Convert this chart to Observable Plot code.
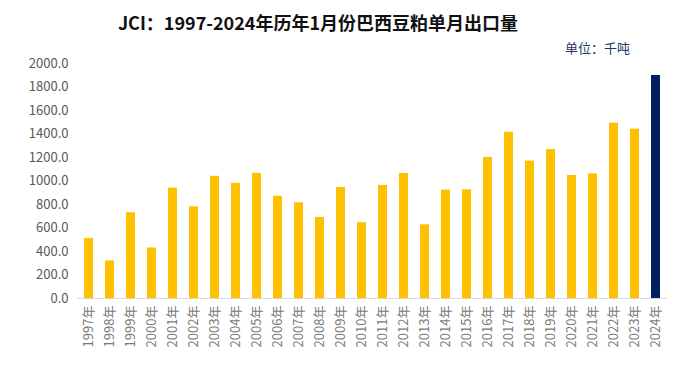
<!DOCTYPE html>
<html>
<head>
<meta charset="utf-8">
<script src="https://cdn.jsdelivr.net/npm/d3@7"></script>
<script src="https://cdn.jsdelivr.net/npm/@observablehq/plot@0.6"></script>
<style>
  body { margin: 0; background: #fff; font-family: "Noto Sans CJK SC", "Noto Sans", sans-serif; }
  #wrap { position: relative; width: 700px; height: 381px; overflow: hidden; }
  #title { position: absolute; left: 0; width: 636px; top: 9px; text-align: center; font-size: 18px; font-weight: bold; color: #111; }
  #unit { position: absolute; left: 565px; top: 38px; font-size: 13px; color: #203864; }
  #chart { position: absolute; left: 0; top: 0; }
</style>
</head>
<body>
<div id="wrap">
  <div id="chart"></div>
  <div id="title">JCI：1997-2024年历年1月份巴西豆粕单月出口量</div>
  <div id="unit">单位：千吨</div>
</div>
<script>
const years = ["1997年","1998年","1999年","2000年","2001年","2002年","2003年","2004年","2005年","2006年","2007年","2008年","2009年","2010年","2011年","2012年","2013年","2014年","2015年","2016年","2017年","2018年","2019年","2020年","2021年","2022年","2023年","2024年"];
const values = [510, 320, 730, 430, 940, 780, 1040, 980, 1065, 870, 815, 690, 945, 645, 962, 1064, 627, 922, 925, 1200, 1415, 1169, 1268, 1047, 1061, 1492, 1441, 1898];
const highlightYear = "2024年";
const yTicks = [0, 200, 400, 600, 800, 1000, 1200, 1400, 1600, 1800, 2000];

const data = years.map((y, i) => ({year: y, value: values[i], hl: y === highlightYear}));

const chart = Plot.plot({
  width: 700,
  height: 381,
  marginTop: 63,
  marginBottom: 83,
  marginLeft: 77,
  marginRight: 33,
  style: { fontFamily: "'Noto Sans CJK SC', 'Noto Sans', sans-serif", background: "transparent" },
  x: { domain: years, paddingInner: 0.55, paddingOuter: 0.275, label: null },
  y: { domain: [0, 2000], label: null },
  marks: [
    Plot.barY(data, { x: "year", y: "value", fill: d => d.hl ? "#002060" : "#FFC000" }),
    Plot.ruleY([0], { stroke: "#d9d9d9", strokeWidth: 1.2 }),
    Plot.axisY({ ticks: yTicks, tickFormat: d => d.toFixed(1), tickSize: 0, tickPadding: 9, fontSize: 13, color: "#595959", label: null }),
    Plot.axisX({ tickSize: 0, tickPadding: 7, tickRotate: -90, fontSize: 13, color: "#7a7a7a", label: null })
  ]
});
document.getElementById("chart").appendChild(chart);
</script>
</body>
</html>
